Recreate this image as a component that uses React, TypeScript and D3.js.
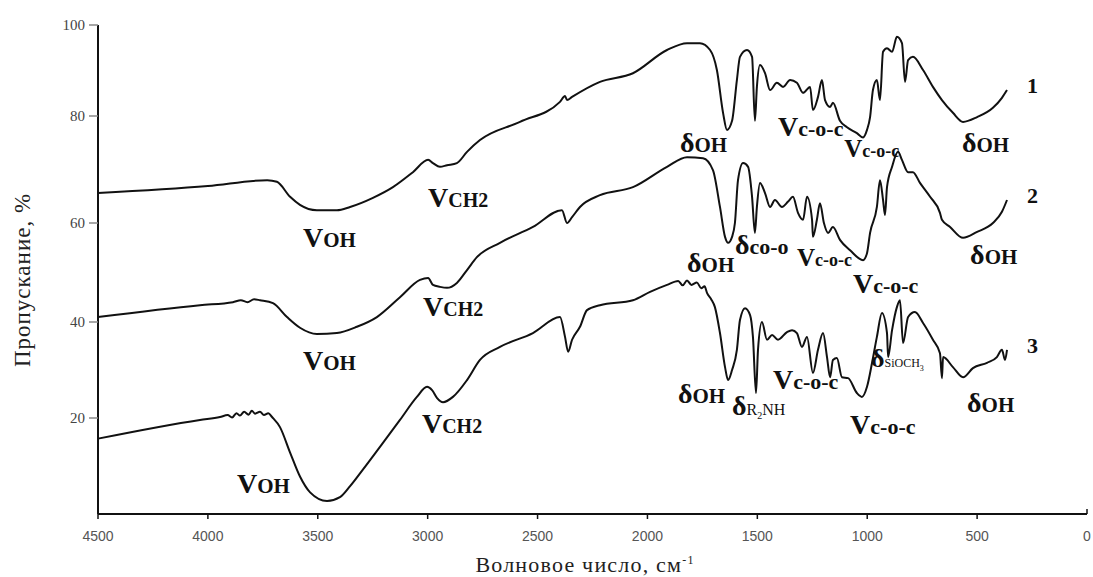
import React from 'react';
import * as d3 from 'd3';

// IR spectra, [wavenumber cm-1, transmittance %]
const spectrum1: [number, number][] = [
  [4500, 65.6], [4000, 66.9], [3730, 68.0], [3686, 67.7], [3626, 64.9], [3581, 63.4],
  [3504, 62.4], [3413, 62.4], [3353, 63.0], [3249, 64.7], [3158, 66.7], [3067, 69.5],
  [2998, 71.8], [2976, 71.2], [2944, 70.5], [2912, 70.8], [2867, 71.2], [2821, 73.3],
  [2762, 75.5], [2580, 78.9], [2398, 83.1], [2375, 84.4], [2366, 83.5], [2343, 84.2],
  [2216, 87.5], [2066, 89.4], [1911, 94.5], [1820, 96.0], [1761, 96.0], [1715, 94.5],
  [1684, 90.1], [1656, 80.7], [1638, 77.4], [1615, 79.1], [1593, 87.9], [1579, 93.0],
  [1547, 94.5], [1524, 93.0], [1511, 79.1], [1502, 86.4], [1488, 91.2], [1465, 89.4],
  [1442, 85.7], [1411, 87.3], [1383, 86.4], [1351, 87.9], [1320, 87.3], [1292, 85.1],
  [1260, 86.4], [1247, 81.3], [1224, 84.2], [1206, 87.9], [1192, 83.5], [1169, 82.0],
  [1156, 82.9], [1124, 79.1], [1092, 77.9], [1047, 76.8], [1019, 76.0], [1001, 77.4],
  [987, 79.8], [974, 85.7], [956, 87.9], [942, 83.5], [928, 94.1], [910, 94.9],
  [887, 94.1], [865, 97.4], [842, 96.0], [828, 87.5], [814, 92.3], [792, 93.0],
  [746, 90.1], [701, 86.4], [660, 83.5], [610, 80.7], [564, 78.9], [500, 79.8],
  [428, 81.8], [387, 84.0], [364, 85.7],
];

const spectrum2: [number, number][] = [
  [4500, 41.0], [4036, 43.4], [3886, 44.0], [3850, 44.4], [3820, 44.0], [3790, 44.6],
  [3763, 44.4], [3704, 43.8], [3640, 41.0], [3581, 38.8], [3504, 37.5], [3413, 37.7],
  [3322, 39.0], [3231, 41.0], [3126, 45.0], [3035, 48.5], [2998, 48.9], [2976, 47.5],
  [2944, 47.1], [2912, 46.9], [2867, 47.9], [2821, 50.5], [2776, 53.1], [2671, 56.0],
  [2521, 59.2], [2389, 62.4], [2366, 60.0], [2343, 61.1], [2307, 63.0], [2216, 65.2],
  [2066, 66.7], [1911, 70.5], [1820, 72.3], [1747, 72.1], [1702, 69.9], [1670, 63.0],
  [1647, 57.2], [1633, 56.0], [1615, 57.2], [1602, 60.0], [1588, 68.0], [1565, 71.2],
  [1542, 70.5], [1524, 64.9], [1511, 58.0], [1502, 63.0], [1488, 67.5], [1465, 65.6],
  [1442, 63.0], [1420, 64.3], [1388, 63.0], [1360, 64.0], [1338, 64.9], [1315, 61.9],
  [1292, 60.6], [1274, 64.9], [1251, 60.6], [1247, 57.2], [1229, 60.6], [1215, 63.7],
  [1197, 60.0], [1178, 58.0], [1156, 59.2], [1124, 56.6], [1078, 54.5], [1019, 52.5],
  [1001, 53.9], [987, 58.0], [956, 63.0], [942, 68.0], [928, 64.3], [919, 61.5],
  [910, 66.7], [887, 70.5], [860, 73.3], [842, 71.8], [814, 69.5], [792, 69.5],
  [760, 67.5], [714, 64.9], [669, 61.9], [660, 60.6], [623, 59.2], [564, 57.0],
  [500, 58.2], [428, 60.0], [387, 62.1], [364, 64.3],
];

const spectrum3: [number, number][] = [
  [4500, 15.7], [4036, 19.6], [3945, 20.2], [3910, 20.6], [3890, 20.1], [3870, 21.0],
  [3854, 20.5], [3835, 21.3], [3815, 20.7], [3800, 21.5], [3785, 20.9], [3763, 21.3],
  [3745, 20.6], [3725, 21.0], [3708, 20.2], [3672, 18.1], [3626, 12.8], [3581, 7.8],
  [3535, 4.5], [3458, 2.7], [3399, 3.5], [3353, 5.8], [3294, 9.3], [3217, 14.0],
  [3126, 19.6], [3049, 24.4], [3003, 26.5], [2980, 25.8], [2958, 24.2], [2930, 23.3],
  [2885, 24.4], [2821, 27.9], [2762, 32.1], [2671, 34.8], [2521, 37.7], [2398, 41.0],
  [2375, 36.9], [2361, 33.8], [2343, 36.3], [2307, 39.0], [2275, 42.4], [2216, 43.4],
  [2066, 44.4], [1988, 46.1], [1911, 47.5], [1860, 48.3], [1840, 47.4], [1820, 48.4],
  [1800, 47.5], [1775, 48.0], [1755, 46.8], [1740, 47.2], [1729, 45.9], [1710, 44.6],
  [1693, 43.0], [1670, 37.7], [1647, 30.6], [1633, 27.9], [1615, 30.0], [1593, 34.2],
  [1579, 40.4], [1556, 42.8], [1533, 41.4], [1520, 36.9], [1506, 25.2], [1497, 34.2],
  [1479, 40.0], [1456, 36.3], [1433, 37.3], [1406, 36.3], [1365, 37.9], [1342, 38.3],
  [1320, 37.7], [1297, 34.8], [1274, 36.9], [1247, 29.4], [1224, 34.2], [1201, 37.7],
  [1183, 32.7], [1169, 28.5], [1156, 32.1], [1138, 32.5], [1115, 28.5], [1087, 28.3],
  [1047, 25.2], [1024, 24.4], [1001, 26.5], [978, 31.5], [956, 36.9], [933, 41.8],
  [910, 37.7], [905, 32.7], [887, 38.3], [865, 43.0], [851, 44.4], [837, 35.6],
  [814, 41.0], [783, 42.0], [746, 39.8], [701, 36.3], [669, 33.5], [660, 28.3],
  [655, 32.7], [610, 30.6], [564, 28.5], [519, 30.4], [455, 31.5], [410, 32.7],
  [387, 34.2], [373, 32.1], [364, 34.2],
];

const spectra = [spectrum1, spectrum2, spectrum3];

const xTicks = [4500, 4000, 3500, 3000, 2500, 2000, 1500, 1000, 500, 0];
const yTicks = [20, 40, 60, 80, 100];
// the scanned axis is not quite linear: tick positions
const yDomain = [0, 20, 40, 60, 80, 100];

// band labels: [wavenumber, %, kind]
const labels: [number, number, string][] = [
  [3567, 55.2, 'vOH'], [2998, 63.0, 'vCH2'], [1852, 73.3, 'dOH'], [1406, 76.3, 'vCOCbig'],
  [1105, 72.3, 'vCOCsmall'], [569, 73.3, 'dOH'], [273, 85.1, '1'],
  [3567, 30.0, 'vOH'], [3021, 41.2, 'vCH2'], [1820, 50.1, 'dOH'], [1602, 53.7, 'dCOO'],
  [1320, 51.3, 'vCOCsmall'], [1065, 45.9, 'vCOCbig'], [532, 51.7, 'dOH'], [273, 63.7, '2'],
  [3868, 4.3, 'vOH'], [3026, 16.9, 'vCH2'], [1861, 23.1, 'dOH'], [1615, 20.6, 'dR2NH'],
  [1429, 26.0, 'vCOCbig'], [1078, 16.7, 'vCOCbig'], [983, 30.6, 'dSiOCH3'],
  [546, 21.3, 'dOH'], [273, 33.5, '3'],
];

type Part = { t: string; s: number; b?: boolean; sub?: boolean };
const labelParts: Record<string, Part[]> = {
  vOH: [{ t: 'V', s: 28, b: true }, { t: 'OH', s: 21, b: true }],
  vCH2: [{ t: 'V', s: 28, b: true }, { t: 'CH', s: 20, b: true }, { t: '2', s: 20, b: true }],
  dOH: [{ t: 'δ', s: 28, b: true }, { t: 'OH', s: 21, b: true }],
  vCOCbig: [{ t: 'V', s: 28, b: true }, { t: 'c-o-c', s: 22, b: true }],
  vCOCsmall: [{ t: 'V', s: 25, b: true }, { t: 'c-o-c', s: 18, b: true }],
  dCOO: [{ t: 'δ', s: 28, b: true }, { t: 'co-o', s: 22, b: true }],
  dR2NH: [{ t: 'δ', s: 28, b: true }, { t: 'R', s: 16 }, { t: '2', s: 10, sub: true }, { t: 'NH', s: 16 }],
  dSiOCH3: [{ t: 'δ', s: 26, b: true }, { t: 'SiOCH', s: 12 }, { t: '3', s: 8, sub: true }],
  '1': [{ t: '1', s: 22, b: true }],
  '2': [{ t: '2', s: 22, b: true }],
  '3': [{ t: '3', s: 22, b: true }],
};

const W = 1093;
const H = 577;
const serif = "'Liberation Serif', 'Times New Roman', serif";

export default function App() {
  const x = d3.scaleLinear().domain([4500, 0]).range([98, 1087]);
  const y = d3.scaleLinear().domain(yDomain).range([514, 418, 322, 223, 116, 25]);
  const line = d3
    .line<[number, number]>()
    .x(d => x(d[0]))
    .y(d => y(d[1]))
    .curve(d3.curveMonotoneX);
  const y0 = y(0);

  return (
    <svg width={W} height={H} style={{ position: 'absolute', left: 0, top: 0, background: '#fff' }}>
      {spectra.map((s, i) => (
        <path key={i} d={line(s) ?? ''} fill="none" stroke="#111" strokeWidth={2} strokeLinejoin="round" />
      ))}

      {/* axes */}
      <line x1={x(4500)} x2={x(4500)} y1={y(100)} y2={y0} stroke="#111" strokeWidth={2} />
      <line x1={x(4500)} x2={x(0)} y1={y0} y2={y0} stroke="#111" strokeWidth={2} />
      {yTicks.map(t => (
        <g key={t}>
          <line x1={x(4500) - 9} x2={x(4500)} y1={y(t)} y2={y(t)} stroke="#888" strokeWidth={1.5} />
          <text x={x(4500) - 13} y={y(t) + 5} textAnchor="end" fontFamily={serif} fontSize={15} fill="#444">
            {t}
          </text>
        </g>
      ))}
      {xTicks.map(t => (
        <g key={t}>
          <line x1={x(t)} x2={x(t)} y1={y0} y2={t === 0 ? y0 - 5 : y0 + 5} stroke="#111" strokeWidth={1.5} />
          <text
            x={x(t)}
            y={y0 + 27}
            textAnchor="middle"
            fontFamily="'Liberation Sans Narrow', 'Liberation Sans', Arial, sans-serif"
            fontSize={14}
            fill="#555"
          >
            {t}
          </text>
        </g>
      ))}
      <text x={585} y={572} textAnchor="middle" fontFamily={serif} fontSize={22} letterSpacing={1.2} fill="#222">
        Волновое число, см<tspan dy={-8} fontSize={12}>-1</tspan>
      </text>
      <text
        transform="translate(30,280) rotate(-90)"
        textAnchor="middle"
        fontFamily={serif}
        fontSize={23}
        letterSpacing={1}
        fill="#222"
      >
        Пропускание, %
      </text>

      {/* band assignments */}
      {labels.map(([wn, v, kind], i) => (
        <text key={i} x={x(wn)} y={y(v)} fontFamily={serif} fill="#111">
          {labelParts[kind].map((p, j) => {
            const prev = labelParts[kind][j - 1];
            let dy = 0;
            if (p.sub) dy = 4;
            else if (prev && prev.sub) dy = -4;
            return (
              <tspan key={j} fontSize={p.s} fontWeight={p.b ? 'bold' : 'normal'} dy={dy}>
                {p.t}
              </tspan>
            );
          })}
        </text>
      ))}
    </svg>
  );
}
